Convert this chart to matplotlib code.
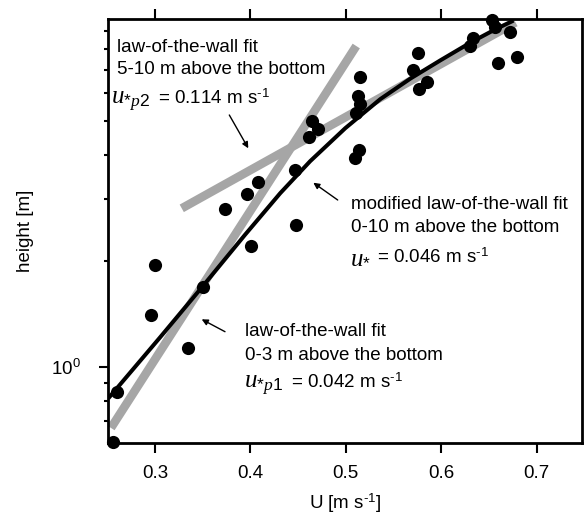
import matplotlib
matplotlib.use("Agg")
import matplotlib.pyplot as plt
from matplotlib.ticker import FixedLocator, NullFormatter, LogFormatterSciNotation

plt.rcParams['font.family'] = ['Liberation Sans', 'DejaVu Sans']
plt.rcParams['mathtext.fontset'] = 'custom'
plt.rcParams['mathtext.rm'] = 'Liberation Sans'
plt.rcParams['mathtext.it'] = 'Liberation Serif:italic'
plt.rcParams['mathtext.bf'] = 'Liberation Sans:bold'
plt.rcParams['mathtext.sf'] = 'Liberation Sans'

# ---- data ----
u_obs = [0.2556, 0.2598, 0.2958, 0.3000, 0.3350, 0.3507, 0.3735, 0.3962, 0.4084,
         0.4004, 0.4480, 0.4462, 0.4609, 0.4644, 0.4707, 0.5133, 0.5099, 0.5150,
         0.5127, 0.5150, 0.5110, 0.5752, 0.5700, 0.5850, 0.5763, 0.6298, 0.6334,
         0.6533, 0.6568, 0.6720, 0.6590, 0.6795]
h_obs = [0.612, 0.851, 1.405, 1.95, 1.13, 1.684, 2.805, 3.10, 3.36,
         2.20, 2.53, 3.63, 4.49, 5.01, 4.76, 4.14, 3.92, 6.68,
         5.89, 5.59, 5.28, 7.81, 6.98, 6.44, 6.15, 8.18, 8.59,
         9.68, 9.26, 8.93, 7.29, 7.61]

# modified law-of-the-wall fit (0-10 m)
u_mod = [0.2510, 0.3052, 0.3507, 0.3944, 0.4312, 0.4626, 0.4994, 0.5361,
         0.5676, 0.5991, 0.6305, 0.6568, 0.6757]
h_mod = [0.814, 1.213, 1.705, 2.377, 3.118, 3.845, 4.772, 5.771,
         6.601, 7.440, 8.352, 9.118, 9.650]

# law-of-the-wall fit 0-3 m
u_p1 = [0.2538, 0.5109]
h_p1 = [0.671, 8.17]
# law-of-the-wall fit 5-10 m
u_p2 = [0.3280, 0.6778]
h_p2 = [2.824, 9.535]

x_ticks = [0.3, 0.4, 0.5, 0.6, 0.7]
x_ticklabels = ['0.3', '0.4', '0.5', '0.6', '0.7']

W, H = 585, 518
fig = plt.figure(figsize=(W / 100, H / 100), dpi=100)
ax = fig.add_axes([108 / W, 1 - 443 / H, 474 / W, 424 / H])

gray = '#a6a6a6'
ax.plot(u_p1, h_p1, color=gray, lw=6.2, solid_capstyle='butt', zorder=2)
ax.plot(u_p2, h_p2, color=gray, lw=6.2, solid_capstyle='butt', zorder=2)
ax.plot(u_mod, h_mod, color='black', lw=2.9, solid_capstyle='butt',
        solid_joinstyle='round', zorder=3)
ax.scatter(u_obs, h_obs, s=90, color='black', zorder=4, clip_on=False, linewidths=0)

ax.set_yscale('log')
ax.set_xlim(0.2507, 0.7475)
ax.set_ylim(0.608, 9.75)

ax.set_xticks(x_ticks)
ax.set_xticklabels(x_ticklabels)
ax.yaxis.set_major_locator(FixedLocator([1.0]))
ax.yaxis.set_major_formatter(LogFormatterSciNotation())
ax.yaxis.set_minor_locator(FixedLocator([0.7, 0.8, 0.9, 2, 3, 4, 5, 6, 7, 8, 9]))
ax.yaxis.set_minor_formatter(NullFormatter())

for s in ax.spines.values():
    s.set_linewidth(2.0)
ax.tick_params(axis='x', which='major', direction='out', length=7, width=1.5,
               top=True, labeltop=False, labelsize=13.5, pad=9)
ax.tick_params(axis='y', which='major', direction='out', length=6.5, width=1.5,
               right=False, labelsize=13.5, pad=13)
ax.tick_params(axis='y', which='minor', direction='out', length=3.2, width=1.5,
               right=False)

ax.set_xlabel(r'U [m s$^{\text{-}1}$]', fontsize=13.5, labelpad=7)
ax.set_ylabel('height [m]', fontsize=13.5, labelpad=12)

def fp(x, y):
    return (x, H - y)

fs = 13.5
def label(x, y, s, **kw):
    fig.text(x / W, 1 - y / H, s, fontsize=kw.pop('fontsize', fs), va='baseline', ha='left', **kw)

# annotation 1 (5-10 m)
label(117, 52, 'law-of-the-wall fit')
label(117, 74.5, '5-10 m above the bottom')
label(111, 104, r'$u_{*\mathit{p2}}$', fontsize=18)
label(158, 104, r'= 0.114 m s$^{\text{-}1}$')

# annotation 2 (modified)
label(351, 209, 'modified law-of-the-wall fit')
label(351, 232.5, '0-10 m above the bottom')
label(350, 263, r'$u_{*}$', fontsize=18)
label(377, 263, r'= 0.046 m s$^{\text{-}1}$')

# annotation 3 (0-3 m)
label(245, 336, 'law-of-the-wall fit')
label(245, 359.5, '0-3 m above the bottom')
label(244, 388, r'$u_{*\mathit{p1}}$', fontsize=18)
label(291, 388, r'= 0.042 m s$^{\text{-}1}$')

arrows = [((229.3, 115), (248.3, 148.3)),
          ((337.7, 200), (313.3, 182.7)),
          ((225, 331.7), (201.7, 319.3))]
for tail, head in arrows:
    ax.annotate('', xy=fp(*head), xycoords='figure pixels',
                xytext=fp(*tail), textcoords='figure pixels',
                arrowprops=dict(arrowstyle='-|>', lw=1.0, color='black',
                                mutation_scale=9, shrinkA=0, shrinkB=0))

fig.savefig('out.png', dpi=100)
